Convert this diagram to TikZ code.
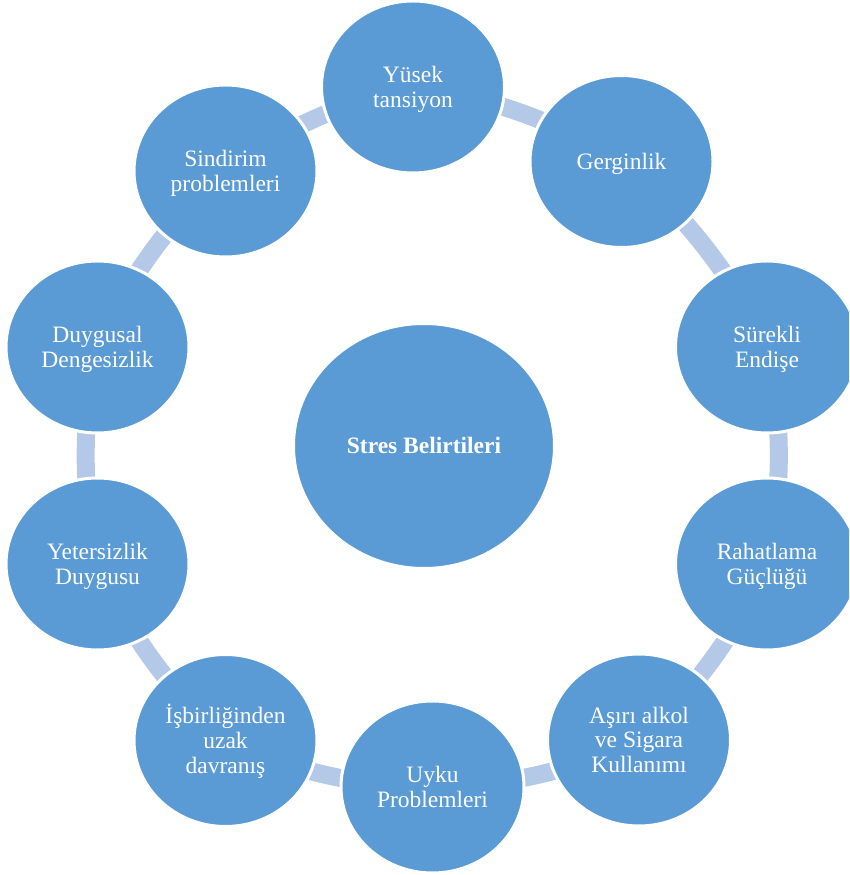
\documentclass[tikz,border=0pt]{standalone}
\usepackage{fontspec}
\setmainfont{Liberation Serif}
\usetikzlibrary{shapes.geometric,backgrounds}
\definecolor{nodeblue}{HTML}{5B9BD5}
\definecolor{arcblue}{HTML}{B4C9E8}
\newcommand{\tstr}{\rule{0pt}{0.891em}}
\newcommand{\bstr}{\rule[-0.216em]{0pt}{0.216em}}
\begin{document}
\begin{tikzpicture}[x=1pt,y=1pt,
  symp/.style={ellipse, fill=nodeblue, draw=white, line width=3pt,
    minimum width=183pt, minimum height=172pt, inner sep=0pt,
    text=white, align=center, font=\fontsize{23.5}{24.7}\selectfont},
  hub/.style={symp, minimum width=261pt, minimum height=245pt,
    font=\fontsize{23.5}{24.7}\selectfont\bfseries},
  link/.style={draw=arcblue, line width=18pt}]
\useasboundingbox (0,0) rectangle (849,875);
\clip (0,0) rectangle (849,875);
\node[hub] (hub) at (424,429) {\tstr Stres Belirtileri\bstr};
\node[symp] (n1) at (413,788) {\tstr Yüsek\\tansiyon\bstr};
\node[symp] (n2) at (621.5,713.5) {\tstr Gerginlik\bstr};
\node[symp] (n3) at (767,528) {\tstr Sürekli\\Endişe\bstr};
\node[symp] (n4) at (767,311) {\tstr Rahatlama\\Güçlüğü\bstr};
\node[symp] (n5) at (639,135) {\tstr Aşırı alkol\\ve Sigara\\Kullanımı\bstr};
\node[symp] (n6) at (432.5,88) {\tstr Uyku\\Problemleri\bstr};
\node[symp] (n7) at (225.5,134.5) {\tstr İşbirliğinden\\uzak\\davranış\bstr};
\node[symp] (n8) at (97.5,311) {\tstr Yetersizlik\\Duygusu\bstr};
\node[symp] (n9) at (97.5,528) {\tstr Duygusal\\Dengesizlik\bstr};
\node[symp] (n10) at (225.5,704) {\tstr Sindirim\\problemleri\bstr};
\begin{scope}[on background layer]
  \foreach \a/\b in {n1/n2,n2/n3,n3/n4,n4/n5,n5/n6,n6/n7,n7/n8,n8/n9,n9/n10,n10/n1}
    \draw[link] (\a.center) to[bend left=12.5, looseness=0.86] (\b.center);
\end{scope}
\end{tikzpicture}
\end{document}
